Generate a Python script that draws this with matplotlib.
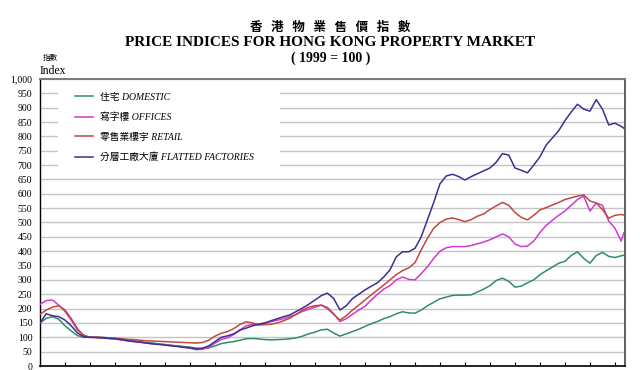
import numpy as np
import matplotlib
matplotlib.use("Agg")
import matplotlib.pyplot as plt
from matplotlib.patches import Rectangle
from matplotlib.ticker import FuncFormatter

# quarterly readings, 1997 Q1 .. 2020 Q2, plus the last point of the series
dates = np.append(np.arange(1997, 2020.3, 0.25), 2020.35)

domestic = [
    150, 166, 172, 163,   # 1997
    140, 122, 106, 100,   # 1998
    100, 101, 100, 98,    # 1999
    96, 92, 90, 88,       # 2000
    85, 82, 80, 77,       # 2001
    75, 72, 70, 68,       # 2002
    66, 62, 61, 63,       # 2003
    70, 78, 82, 85,       # 2004
    90, 95, 96, 94,       # 2005
    92, 91, 92, 93,       # 2006
    95, 98, 104, 112,     # 2007
    118, 126, 128, 115,   # 2008
    104, 112, 120, 128,   # 2009
    138, 147, 155, 165,   # 2010
    172, 182, 189, 185,   # 2011
    184, 195, 210, 222,   # 2012
    234, 240, 246, 247,   # 2013
    247, 248, 258, 268,   # 2014
    280, 298, 306, 295,   # 2015
    275, 278, 290, 300,   # 2016
    318, 332, 345, 358,   # 2017
    365, 385, 398, 375,   # 2018
    358, 385, 396, 382,   # 2019
    378, 384, 386,        # 2020
]

offices = [
    215, 228, 230, 212,   # 1997
    190, 160, 125, 108,   # 1998
    100, 100, 98, 96,     # 1999
    94, 91, 88, 86,       # 2000
    83, 80, 78, 76,       # 2001
    74, 72, 69, 66,       # 2002
    62, 57, 58, 65,       # 2003
    80, 92, 98, 110,      # 2004
    126, 140, 145, 146,   # 2005
    150, 155, 160, 165,   # 2006
    172, 180, 190, 198,   # 2007
    205, 212, 204, 182,   # 2008
    155, 165, 180, 195,   # 2009
    208, 230, 250, 268,   # 2010
    280, 300, 310, 302,   # 2011
    300, 322, 346, 375,   # 2012
    400, 412, 416, 416,   # 2013
    416, 420, 426, 432,   # 2014
    440, 450, 460, 450,   # 2015
    425, 416, 418, 435,   # 2016
    465, 490, 508, 525,   # 2017
    540, 560, 580, 592,   # 2018
    540, 568, 560, 505,   # 2019
    480, 435, 463,        # 2020
]

retail = [
    180, 195, 205, 210,   # 1997
    195, 165, 130, 105,   # 1998
    100, 100, 99, 98,     # 1999
    97, 95, 93, 92,       # 2000
    90, 88, 87, 86,       # 2001
    85, 84, 83, 82,       # 2002
    81, 80, 82, 90,       # 2003
    104, 114, 120, 130,   # 2004
    145, 154, 150, 143,   # 2005
    144, 146, 150, 158,   # 2006
    167, 180, 195, 205,   # 2007
    210, 212, 200, 180,   # 2008
    160, 175, 195, 212,   # 2009
    230, 248, 265, 282,   # 2010
    300, 318, 332, 342,   # 2011
    360, 405, 445, 480,   # 2012
    500, 512, 516, 510,   # 2013
    503, 510, 522, 530,   # 2014
    545, 558, 570, 560,   # 2015
    535, 518, 509, 525,   # 2016
    544, 552, 561, 570,   # 2017
    580, 586, 592, 596,   # 2018
    575, 568, 545, 515,   # 2019
    525, 528, 526,        # 2020
]

factories = [
    150, 182, 175, 172,   # 1997
    160, 140, 115, 102,   # 1998
    100, 99, 98, 96,      # 1999
    95, 92, 88, 85,       # 2000
    83, 80, 77, 75,       # 2001
    73, 70, 68, 65,       # 2002
    63, 60, 62, 70,       # 2003
    85, 100, 105, 112,    # 2004
    125, 132, 140, 145,   # 2005
    150, 158, 165, 172,   # 2006
    178, 190, 202, 215,   # 2007
    230, 245, 254, 235,   # 2008
    195, 210, 235, 250,   # 2009
    265, 278, 290, 310,   # 2010
    335, 380, 398, 398,   # 2011
    410, 450, 510, 570,   # 2012
    635, 662, 668, 660,   # 2013
    648, 660, 670, 680,   # 2014
    690, 710, 740, 735,   # 2015
    690, 682, 673, 700,   # 2016
    729, 770, 795, 820,   # 2017
    855, 885, 912, 895,   # 2018
    888, 928, 895, 840,   # 2019
    846, 835, 829,        # 2020
]

labels = ["住宅 DOMESTIC", "寫字樓 OFFICES", "零售業樓宇 RETAIL", "分層工廠大廈 FLATTED FACTORIES"]
colors = ["#2f8f62", "#cf3bcf", "#c2473c", "#3d2f90"]
year_ticks = list(range(1998, 2021))
y_ticks = list(range(0, 1001, 50))

serif = ["Liberation Serif", "Noto Sans CJK TC"]
cjk = ["Noto Sans CJK TC", "DejaVu Sans"]

fig = plt.figure(figsize=(6.4, 3.7), dpi=100)
ax = fig.add_axes([0.0625, 0.0108, 0.914, 0.7757])

for series, lab, col in zip([domestic, offices, retail, factories], labels, colors):
    ax.plot(dates, series, color=col, lw=1.1, label=lab, zorder=3)

ax.set_xlim(1997, 2020.4)
ax.set_ylim(0, 1000)
ax.set_xticks(year_ticks)
ax.set_xticklabels([])
ax.set_yticks(y_ticks)
ax.yaxis.set_major_formatter(FuncFormatter(lambda v, p: f"{v:,.0f}"))
for t in ax.get_yticklabels():
    t.set_fontfamily(serif)
    t.set_fontsize(7)
ax.tick_params(axis="y", length=0, pad=5.5)
ax.tick_params(axis="x", direction="in", length=3, width=0.8)

ax.set_axisbelow(True)
ax.grid(axis="y", color="#c4c4c4", lw=1.0)

ax.spines["top"].set_color("#7a7a7a")
ax.spines["top"].set_linewidth(1.4)
ax.spines["right"].set_color("#444444")
ax.spines["right"].set_linewidth(1.2)
ax.spines["left"].set_linewidth(1.0)
ax.spines["bottom"].set_linewidth(1.2)

# white box behind the legend hides the gridlines there
ax.add_patch(Rectangle((0.031, 0.676), 0.38, 0.314, transform=ax.transAxes,
                       facecolor="white", edgecolor="none", zorder=1))

leg = ax.legend(loc="upper left", bbox_to_anchor=(0.06, 0.953), frameon=False,
                borderpad=0, borderaxespad=0, handlelength=1.85, handletextpad=0.7,
                labelspacing=1.1, prop={"family": serif, "style": "italic", "size": 7})

fig.text(0.516, 0.927, "香   港   物   業   售   價   指   數", family=cjk, fontweight="bold",
         fontsize=9, ha="center", va="center")
fig.text(0.516, 0.884, "PRICE INDICES FOR HONG KONG PROPERTY MARKET", family=serif,
         fontweight="bold", fontsize=11, ha="center", va="center")
fig.text(0.516, 0.843, "( 1999 = 100 )", family=serif, fontweight="bold",
         fontsize=10, ha="center", va="center")

fig.text(0.078, 0.843, "指數", family=cjk, fontsize=5.5, ha="center", va="center")
fig.text(0.0625, 0.808, "Index", family=serif, fontsize=8.5, ha="left", va="center")

fig.savefig("out.png", dpi=100)
